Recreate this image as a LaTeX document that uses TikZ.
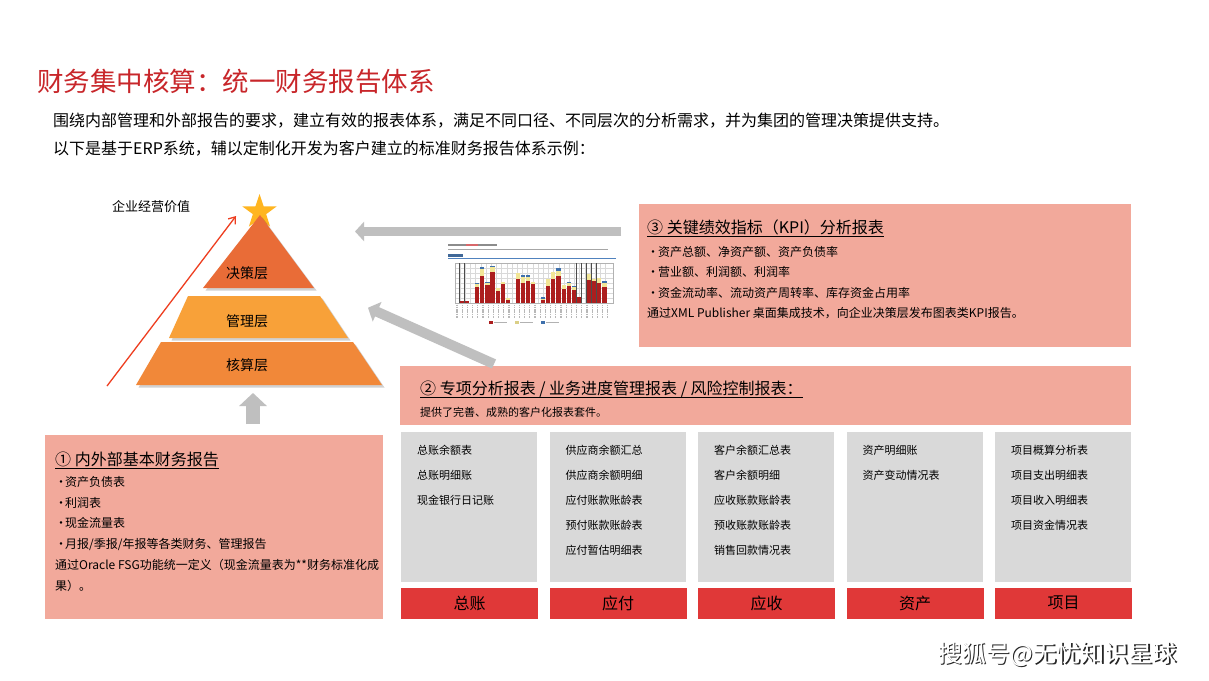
\documentclass[tikz,border=0pt]{standalone}
\usepackage{fontspec}
\newfontfamily\cjk{Noto Sans CJK SC}
\usetikzlibrary{arrows.meta}
\newcommand{\pxfont}[1]{\cjk\fontsize{#1}{#1}\selectfont}
\definecolor{titlered}{RGB}{200,38,42}
\definecolor{boxpink}{RGB}{242,169,155}
\definecolor{colgray}{RGB}{217,217,217}
\definecolor{tabred}{RGB}{224,56,56}
\definecolor{arrowgray}{RGB}{191,191,191}
\definecolor{pyrtop}{RGB}{233,108,55}
\definecolor{pyrmid}{RGB}{248,161,57}
\definecolor{pyrbot}{RGB}{241,136,57}
\definecolor{stargold}{RGB}{255,181,32}
\definecolor{valuered}{RGB}{238,62,32}
\definecolor{barred}{RGB}{172,30,30}
\definecolor{baryel}{RGB}{242,230,150}
\definecolor{barblue}{RGB}{62,112,172}
\definecolor{chartblue}{RGB}{80,130,190}
\tikzset{
  txt/.style={inner sep=0pt, anchor=west, text=black},
  pinkbox/.style={fill=boxpink, inner sep=0pt, anchor=north west},
  colbox/.style={fill=colgray, inner sep=0pt, anchor=north west, minimum width=136pt, minimum height=150pt},
  tabbox/.style={fill=tabred, inner sep=0pt, anchor=north west, minimum width=137pt, minimum height=31pt, font=\pxfont{16}},
  grayarrow/.style={draw=arrowgray, line width=9pt, -{Triangle[width=19pt,length=9pt]}},
  underl/.style={line width=1pt, black}
}
\begin{document}
\begin{tikzpicture}[x=1pt, y=-1pt]
\useasboundingbox (0,0) rectangle (1209,680);
\fill[white] (0,0) rectangle (1209,680);
% Heading
\node[txt, text=titlered, font=\pxfont{26.5}] (title) at (37,81) {财务集中核算：统一财务报告体系};
\node[txt, font=\pxfont{16}] (intro1) at (53,121) {围绕内部管理和外部报告的要求，建立有效的报表体系，满足不同口径、不同层次的分析需求，并为集团的管理决策提供支持。};
\node[txt, font=\pxfont{16}] (intro2) at (53,149) {以下是基于ERP系统，辅以定制化开发为客户建立的标准财务报告体系示例：};
% Pyramid
\fill[stargold, shift={(259.5,212)}] (-90:18) -- (-54:7) -- (-18:18) -- (18:7) -- (54:18) -- (90:7) -- (126:18) -- (162:7) -- (198:18) -- (234:7) -- cycle;
\begin{scope}[black, opacity=0.18, shift={(2.5,2.5)}]
  \fill (260,215) -- (314,288) -- (203,288) -- cycle;
  \fill (188,296) -- (320,296) -- (348,338) -- (169,338) -- cycle;
  \fill (161,342) -- (353,342) -- (382,385) -- (136,385) -- cycle;
\end{scope}
\fill[pyrtop] (260,215) -- (314,288) -- (203,288) -- cycle;
\fill[pyrmid] (188,296) -- (320,296) -- (348,338) -- (169,338) -- cycle;
\fill[pyrbot] (161,342) -- (353,342) -- (382,385) -- (136,385) -- cycle;
\node[font=\pxfont{14}, inner sep=0pt] (layer3) at (247,273) {决策层};
\node[font=\pxfont{14}, inner sep=0pt] (layer2) at (247,321) {管理层};
\node[font=\pxfont{14}, inner sep=0pt] (layer1) at (247,365) {核算层};
\node[txt, font=\pxfont{13}] (value) at (112,207) {企业经营价值};
\coordinate (valuefoot) at (107,386);
\coordinate (valuehead) at (236,216);
\draw[valuered, line width=1.3pt, -{Straight Barb[length=6pt,width=9pt]}] (valuefoot) -- (valuehead);
% Boxes
\node[pinkbox, minimum width=492pt, minimum height=143pt] (kpibox) at (639,204) {};
\node[pinkbox, minimum width=731pt, minimum height=59pt] (specbox) at (400,366) {};
\node[pinkbox, minimum width=338pt, minimum height=184pt] (basebox) at (45,435) {};
% Box 3
\node[txt, font=\pxfont{16}] (kpititle) at (647,227) {③ 关键绩效指标（KPI）分析报表};
\draw[underl] ([yshift=-3pt]kpititle.base west) -- ([yshift=-3pt]kpititle.base east);
\node[txt, font=\pxfont{12}] (kpi1) at (647,252) {\makebox[11pt][l]{•}资产总额、净资产额、资产负债率};
\node[txt, font=\pxfont{12}] (kpi2) at (647,272) {\makebox[11pt][l]{•}营业额、利润额、利润率};
\node[txt, font=\pxfont{12}] (kpi3) at (647,293) {\makebox[11pt][l]{•}资金流动率、流动资产周转率、库存资金占用率};
\node[txt, font=\pxfont{12}] (kpi4) at (647,313) {通过XML Publisher 桌面集成技术，向企业决策层发布图表类KPI报告。};
% Box 2
\node[txt, font=\pxfont{16}] (spectitle) at (420,389) {② 专项分析报表 / 业务进度管理报表 / 风险控制报表：};
\draw[underl] ([yshift=-3pt]spectitle.base west) -- ([yshift=-3pt]spectitle.base east);
\node[txt, font=\pxfont{11}] (specnote) at (420,412) {提供了完善、成熟的客户化报表套件。};
% Box 1
\node[txt, font=\pxfont{16}] (basetitle) at (55,459) {① 内外部基本财务报告};
\draw[underl] ([yshift=-3pt]basetitle.base west) -- ([yshift=-3pt]basetitle.base east);
\node[txt, font=\pxfont{12}] (base1) at (55,482) {\makebox[10pt][l]{•}资产负债表};
\node[txt, font=\pxfont{12}] (base2) at (55,503) {\makebox[10pt][l]{•}利润表};
\node[txt, font=\pxfont{12}] (base3) at (55,523) {\makebox[10pt][l]{•}现金流量表};
\node[txt, font=\pxfont{12}] (base4) at (55,544) {\makebox[10pt][l]{•}月报/季报/年报等各类财务、管理报告};
\node[txt, font=\pxfont{12}] (base5) at (55,565) {通过Oracle FSG功能统一定义（现金流量表为**财务标准化成};
\node[txt, font=\pxfont{12}] (base6) at (55,586) {果）。};
% Report columns
\foreach \i/\colname/\collist in {
  0/总账/{总账余额表,总账明细账,现金银行日记账},
  1/应付/{供应商余额汇总,供应商余额明细,应付账款账龄表,预付账款账龄表,应付暂估明细表},
  2/应收/{客户余额汇总表,客户余额明细,应收账款账龄表,预收账款账龄表,销售回款情况表},
  3/资产/{资产明细账,资产变动情况表},
  4/项目/{项目概算分析表,项目支出明细表,项目收入明细表,项目资金情况表}} {
  \node[colbox] (col\i) at ({401+148.5*\i},432) {};
  \node[tabbox] (tab\i) at ({401+148.5*\i},587.5) {\colname};
  \foreach \entry [count=\k] in \collist {
    \node[txt, font=\pxfont{11}] (item\i-\k) at ({417+148.5*\i},{450+25*(\k-1)}) {\entry};
  }
}
% Chart thumbnail
\fill[black!45] (448,244) rectangle (497,246);
\fill[titlered!70] (466,244) rectangle (478,246);
\fill[black!35] (448,248.5) rectangle (608,250);
\fill[chartblue!80!black] (448,253.5) rectangle (463,256.5);
\draw[chartblue, line width=0.9pt] (448,258.3) -- (616,258.3);
\foreach \gy in {268,273,...,298}
  \draw[black!15, line width=0.3pt] (455,\gy) -- (612.7,\gy);
\foreach \gx in {460,465.2,...,610}
  \draw[black!15, line width=0.3pt] (\gx,263) -- (\gx,302.7);
\draw[black!30, line width=0.4pt] (455,263) rectangle (612.7,302.7);
\foreach \gx in {459,464.3,576.5,581.7,586.7,591.7,596.3}
  \draw[black!70, line width=0.6pt] (\gx,263) -- (\gx,302.7);
\foreach \bx/\rt/\yt/\bt in {
  459.6/301/301/301, 464.7/301/301/301,
  475/286.7/284/283.3, 480/276/269.3/266.7, 485.3/285/282.7/281.7,
  490.3/271.7/267/266, 495.7/291/288.3/288.3, 500.7/284/282.3/281.5,
  506/300/297.7/297.7, 515.7/279/273.3/273.3, 520.7/283.3/276.7/275.3,
  525.7/281/276.7/275.3, 531/284/282.3/281.7, 540.7/300/298.5/297,
  546/286/279/279, 551/279/271.7/271.7, 556.3/276/270.7/268.3,
  561.7/289.3/285/285, 566.7/286/283/282, 571.7/290/286.7/285.7,
  576.7/296.7/296.7/296.7, 586.7/280/273.7/273.7, 592/280.7/279/279,
  597/283.3/278.3/278.3, 602.3/286.7/283.3/281} {
  \fill[barblue] (\bx,\bt) rectangle ({\bx+4.3},302.7);
  \fill[baryel] (\bx,\yt) rectangle ({\bx+4.3},302.7);
  \fill[barred] (\bx,\rt) rectangle ({\bx+4.3},302.7);
}
\foreach \gx in {457,462.2,...,610}
  \draw[black!28, line width=1.2pt, dash pattern=on 1.6pt off 0.7pt] (\gx,304.5) -- (\gx,317.5);
\fill[barred] (489,320.5) rectangle (492.5,324);
\fill[black!30] (494,321.5) rectangle (507,323);
\fill[baryel!90!black] (515,320.5) rectangle (518.5,324);
\fill[black!30] (520,321.5) rectangle (533,323);
\fill[barblue] (541,320.5) rectangle (544.5,324);
\fill[black!30] (546,321.5) rectangle (559,323);
% Gray arrows
\coordinate (kpitail) at (621,231.5);
\coordinate (kpitip) at (355,231.5);
\coordinate (spectail) at (494,364);
\coordinate (spectip) at (368,307.7);
\coordinate (basetail) at (253,424);
\coordinate (basetip) at (253,393);
\draw[grayarrow] (kpitail) -- (kpitip);
\draw[grayarrow, line width=10pt, -{Triangle[width=21pt,length=10pt]}] (spectail) -- (spectip);
\draw[grayarrow, line width=14pt, -{Triangle[width=27pt,length=13pt]}] (basetail) -- (basetip);
% Watermark
\node[txt, text=black!85, font=\pxfont{24}] (wmshadow) at (939.5,655.5) {搜狐号@无忧知识星球};
\node[txt, text=white, font=\pxfont{24}] (wm) at (938,654) {搜狐号@无忧知识星球};
\end{tikzpicture}
\end{document}
